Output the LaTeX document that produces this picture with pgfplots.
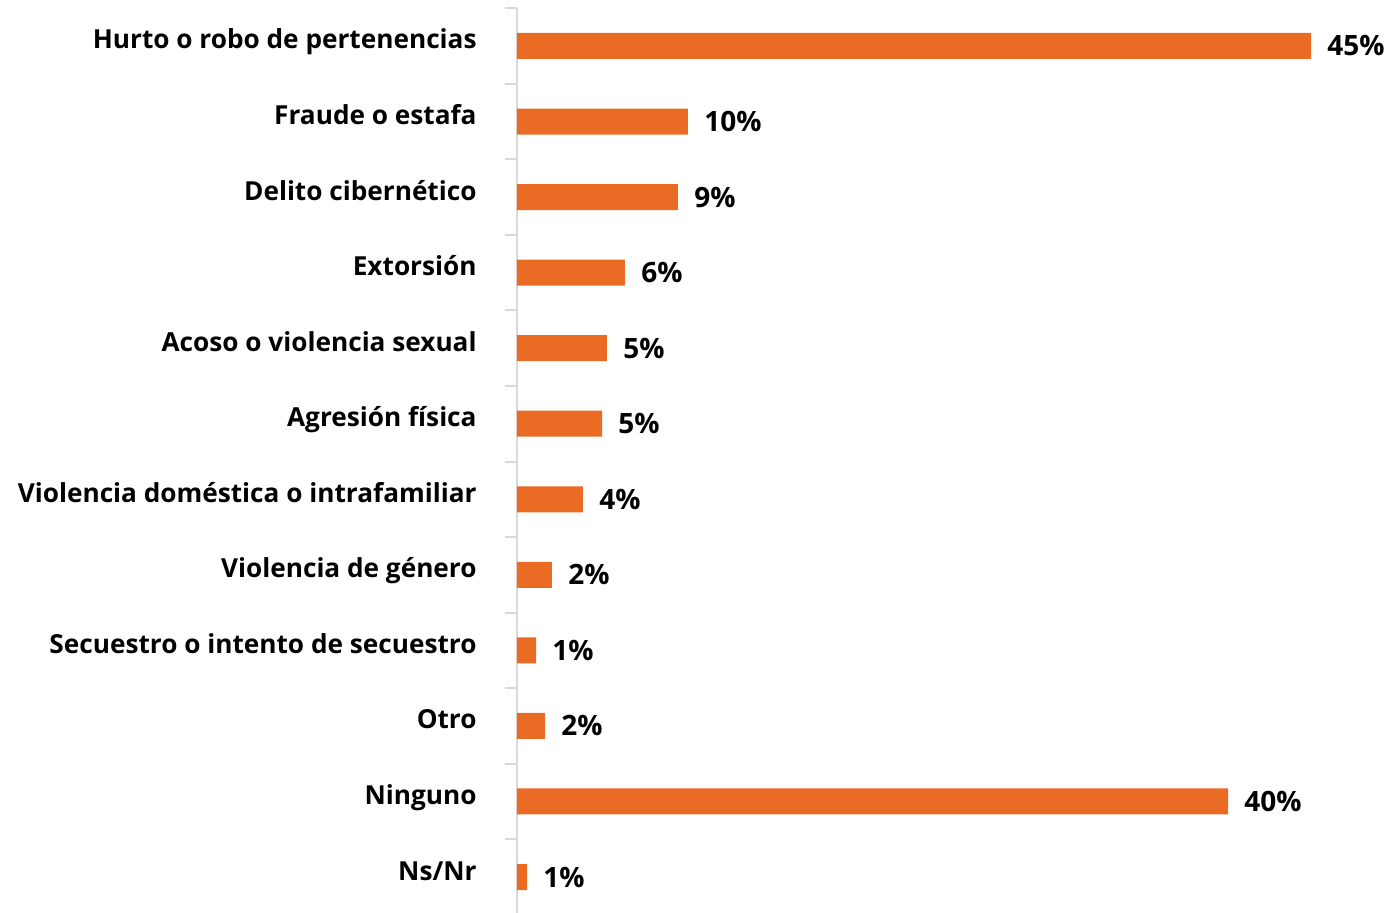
\documentclass[border=0pt]{standalone}
\usepackage{fontspec}
\setmainfont{Open Sans}
\usepackage{pgfplots}
\pgfplotsset{compat=1.18}
\usepackage{pgfplotstable}
\definecolor{barorange}{RGB}{233,107,36}
\definecolor{axgray}{RGB}{217,217,217}
\pgfplotstableread{
y x label
0 45.0 45
1 9.69 10
2 9.12 9
3 6.12 6
4 5.10 5
5 4.82 5
6 3.74 4
7 1.98 2
8 1.08 1
9 1.59 2
10 40.3 40
11 0.57 1
}\datatab
\begin{document}
\begin{tikzpicture}
\begin{axis}[
  at={(0,0)}, anchor=south west,
  scale only axis,
  width=432.3pt, height=453.3pt,
  xbar, bar width=13pt,
  xmin=0, xmax=49,
  ymin=-0.5, ymax=11.5,
  y dir=reverse,
  enlargelimits=false,
  clip=false,
  axis x line=none,
  axis y line*=left,
  y axis line style={draw=axgray, line width=1pt, -},
  ytick={0,...,11},
  yticklabels={Hurto o robo de pertenencias, Fraude o estafa, Delito cibernético, Extorsión, Acoso o violencia sexual, Agresión física, Violencia doméstica o intrafamiliar, Violencia de género, Secuestro o intento de secuestro, Otro, Ninguno, Ns/Nr},
  major tick length=0pt,
  minor ytick={-0.5,0.5,...,11.5},
  minor tick length=6pt,
  tick align=outside,
  minor tick style={draw=axgray, line width=1pt},
  yticklabel style={font=\fontsize{13.1pt}{15pt}\selectfont\bfseries, anchor=base east, inner sep=0pt, xshift=-20pt, yshift=-1.5pt, text=black},
  point meta=explicit symbolic,
  nodes near coords={\pgfplotspointmeta\%},
  nodes near coords style={font=\fontsize{14pt}{16pt}\selectfont\bfseries, anchor=base west, inner sep=0pt, xshift=8pt, yshift=-5pt, text=black},
]
\addplot[fill=barorange, draw=none] table[x=x, y=y, meta=label] {\datatab};
\end{axis}
\pgfresetboundingbox
\path[use as bounding box] (-258.5pt,1.4pt) rectangle (440.5pt,457.4pt);
\end{tikzpicture}
\end{document}
